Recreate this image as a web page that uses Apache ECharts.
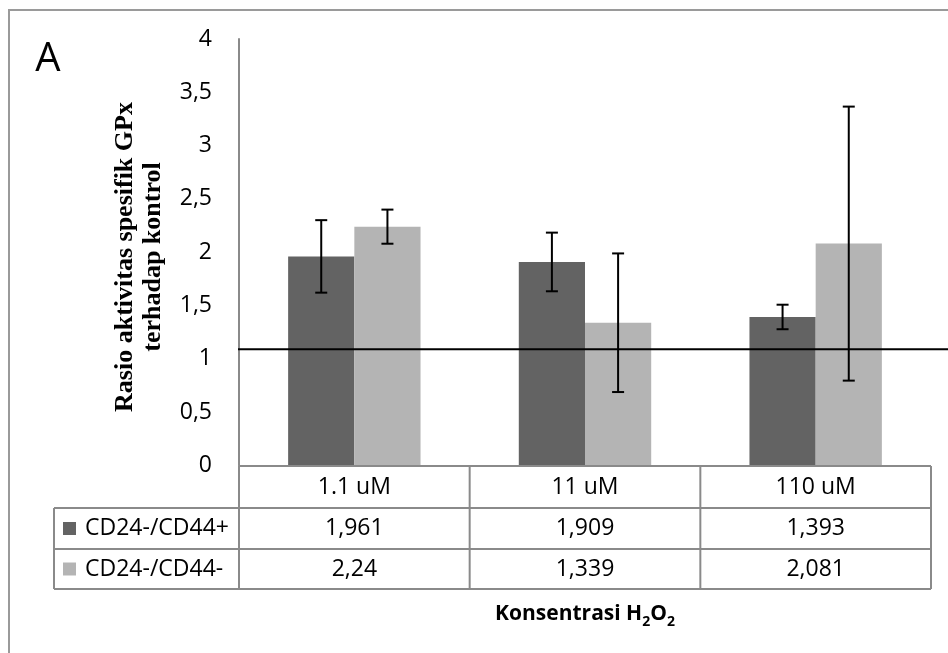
<!DOCTYPE html>
<html>
<head>
<meta charset="utf-8">
<script src="https://cdn.jsdelivr.net/npm/echarts@6/dist/echarts.min.js"></script>
<style>
  html, body { margin: 0; padding: 0; background: #ffffff; }
  #chart { width: 948px; height: 653px; }
</style>
</head>
<body>
<div id="chart"></div>
<script>
// GPx specific activity ratio vs. control, per H2O2 concentration
const categories = ['1.1 uM', '11 uM', '110 uM'];
const seriesNames = ['CD24-/CD44+', 'CD24-/CD44-'];
const valuesPos = [1.961, 1.909, 1.393];
const valuesNeg = [2.24, 1.339, 2.081];
const errorsPos = [0.34, 0.275, 0.115];
const errorsNeg = [0.16, 0.65, 1.285];
const yTicks = ['0', '0,5', '1', '1,5', '2', '2,5', '3', '3,5', '4'];
const controlLevel = [1.09];
const yTitle = 'Rasio aktivitas spesifik GPx\nterhadap kontrol';

const COLORS = ['#636363', '#b4b4b4'];
const GAP = 0.426;              // barCategoryGap as a fraction
const SANS = '"Open Sans", "Noto Sans", sans-serif';
const FS = 23;                   // body text size
const GRID = { left: 239, right: 17, top: 39, bottom: 187.5 };
const ROWS = [466, 508, 549, 589]; // table row boundaries
const LABEL_COL = 185;           // width of the series-name column
const BORDER = '#8a8a8a';

const fmt = v => String(v).replace('.', ',');

function errorData(values, errors) {
  return values.map((v, i) => [i, v - errors[i], v + errors[i]]);
}

function errorBar(side) {
  return function (params, api) {
    const i = api.value(0);
    const hi = api.coord([i, api.value(2)]);
    const lo = api.coord([i, api.value(1)]);
    const band = api.size([1, 0])[0];
    const barW = band * (1 - GAP) / 2;
    const x = hi[0] + side * barW / 2;
    const cap = 6;
    const st = { stroke: '#000', lineWidth: 2 };
    return {
      type: 'group',
      children: [
        { type: 'line', shape: { x1: x, y1: hi[1], x2: x, y2: lo[1] }, style: st },
        { type: 'line', shape: { x1: x - cap, y1: hi[1], x2: x + cap, y2: hi[1] }, style: st },
        { type: 'line', shape: { x1: x - cap, y1: lo[1], x2: x + cap, y2: lo[1] }, style: st }
      ]
    };
  };
}

const chart = echarts.init(document.getElementById('chart'), null, { renderer: 'canvas' });

chart.setOption({
  animation: false,
  backgroundColor: '#ffffff',
  grid: Object.assign({ containLabel: false, outerBoundsMode: 'none' }, GRID),
  xAxis: {
    type: 'category',
    data: categories,
    axisLine: { show: false },
    axisTick: { show: false },
    axisLabel: { show: false },
    splitLine: { show: false }
  },
  yAxis: {
    type: 'value',
    min: 0,
    max: 4,
    interval: 0.5,
    axisLine: { show: true, lineStyle: { color: BORDER, width: 2 } },
    axisTick: { show: false },
    splitLine: { show: false },
    axisLabel: {
      margin: 27,
      fontFamily: SANS,
      fontSize: FS,
      color: '#000',
      formatter: v => yTicks[Math.round(v / 0.5)]
    }
  },
  series: [
    {
      name: seriesNames[0], type: 'bar', data: valuesPos,
      barGap: '0%', barCategoryGap: (GAP * 100) + '%',
      itemStyle: { color: COLORS[0] }
    },
    {
      name: seriesNames[1], type: 'bar', data: valuesNeg,
      barGap: '0%', barCategoryGap: (GAP * 100) + '%',
      itemStyle: { color: COLORS[1] }
    },
    {
      type: 'custom', data: errorData(valuesPos, errorsPos),
      renderItem: errorBar(-1), z: 5, silent: true
    },
    {
      type: 'custom', data: errorData(valuesNeg, errorsNeg),
      renderItem: errorBar(1), z: 5, silent: true
    }
  ]
});

// Data table under the plot, the control line and the frame
const px = c => chart.convertToPixel({ xAxisIndex: 0 }, c);
const py = v => chart.convertToPixel({ yAxisIndex: 0 }, v);
const band = px(categories[1]) - px(categories[0]);
const xL = px(categories[0]) - band / 2;
const xR = px(categories[categories.length - 1]) + band / 2;
const xLab = xL - LABEL_COL;

const lineStyle = { stroke: BORDER, lineWidth: 2 };
const g = [];
const hline = (x1, x2, y) => g.push({ type: 'line', z: 10, shape: { x1, y1: y, x2, y2: y }, style: lineStyle });
const vline = (x, y1, y2) => g.push({ type: 'line', z: 10, shape: { x1: x, y1, x2: x, y2 }, style: lineStyle });
const text = (t, x, y, extra) => g.push({
  type: 'text', z: 11, x, y,
  style: Object.assign({
    text: t, fill: '#000', fontFamily: SANS, fontSize: FS,
    align: 'center', verticalAlign: 'middle', textAlign: 'center', textVerticalAlign: 'middle'
  }, extra || {})
});

hline(xL, xR, ROWS[0]);
for (let r = 1; r < ROWS.length; r++) hline(xLab, xR, ROWS[r]);
vline(xLab, ROWS[1], ROWS[3]);
for (let i = 0; i <= categories.length; i++) vline(xL + i * band, ROWS[0], ROWS[3]);

const mid = r => (ROWS[r] + ROWS[r + 1]) / 2;
categories.forEach((c, i) => {
  const cx = px(c);
  text(c, cx, mid(0));
  text(fmt(valuesPos[i]), cx, mid(1));
  text(fmt(valuesNeg[i]), cx, mid(2));
});
[valuesPos, valuesNeg].forEach((_, s) => {
  g.push({ type: 'rect', z: 11, shape: { x: xLab + 9, y: mid(s + 1) - 6.5, width: 13, height: 13 }, style: { fill: COLORS[s] } });
  text(seriesNames[s], xLab + 31, mid(s + 1), { align: 'left', textAlign: 'left' });
});

// control reference level
const yc = py(controlLevel[0]);
g.push({ type: 'line', z: 12, shape: { x1: xL - 1, y1: yc, x2: 948, y2: yc }, style: { stroke: '#000', lineWidth: 2 } });

// value axis title, rotated
g.push({
  type: 'text', z: 11, x: 139, y: 257, rotation: Math.PI / 2,
  style: {
    text: yTitle, fill: '#000',
    fontFamily: '"Liberation Serif", "Times New Roman", serif',
    fontWeight: 'bold', fontSize: 26, lineHeight: 28,
    align: 'center', verticalAlign: 'middle', textAlign: 'center', textVerticalAlign: 'middle'
  }
});

// axis title under the table
g.push({
  type: 'text', z: 11, x: (xL + xR) / 2, y: 614,
  style: {
    text: '{b|Konsentrasi H}{s|2}{b|O}{s|2}',
    align: 'center', verticalAlign: 'middle', textAlign: 'center', textVerticalAlign: 'middle',
    rich: {
      b: { fontFamily: SANS, fontWeight: 'bold', fontSize: 21, lineHeight: 30, fill: '#000', verticalAlign: 'middle' },
      s: { fontFamily: SANS, fontWeight: 'bold', fontSize: 14, lineHeight: 30, fill: '#000', verticalAlign: 'bottom' }
    }
  }
});

// panel letter
text('A', 48, 60, { fontSize: 40 });

// outer frame
g.push({ type: 'rect', z: 0, shape: { x: 9, y: 10, width: 1000, height: 1000 }, style: { fill: 'none', stroke: '#9a9a9a', lineWidth: 2 } });

chart.setOption({ graphic: g });
</script>
</body>
</html>
